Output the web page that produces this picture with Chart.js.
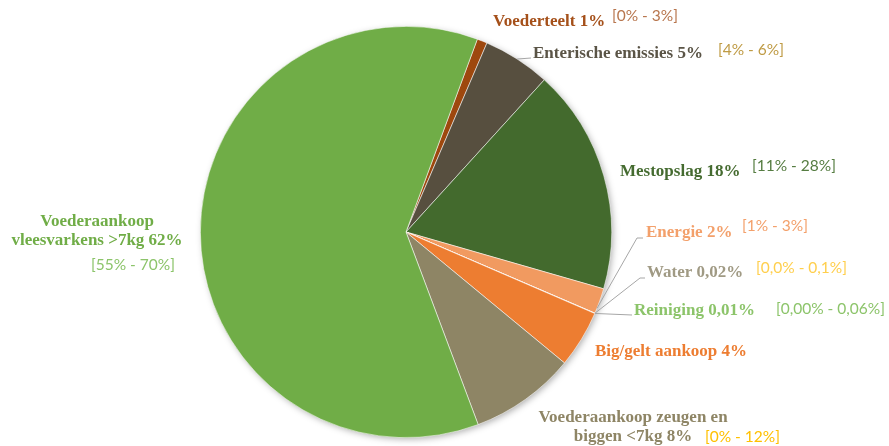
<!DOCTYPE html>
<html><head><meta charset="utf-8">
<script src="https://cdn.jsdelivr.net/npm/chart.js@4/dist/chart.umd.min.js"></script>
<style>html,body{margin:0;padding:0;background:#fff}</style>
</head><body>
<canvas id="c" width="889" height="446"></canvas>
<script>
// ---- data ----
const categories = ['Voederteelt', 'Enterische emissies', 'Mestopslag', 'Energie', 'Water', 'Reiniging', 'Big/gelt aankoop', 'Voederaankoop zeugen en biggen <7kg', 'Voederaankoop vleesvarkens >7kg'];
const shares = [0.8, 5.3, 17.7, 2.0, 0.02, 0.01, 4.5, 8.3, 61.3];
const shareLabels = ['1%', '5%', '18%', '2%', '0,02%', '0,01%', '4%', '8%', '62%'];
const ranges = ['[0% - 3%]', '[4% - 6%]', '[11% - 28%]', '[1% - 3%]', '[0,0% - 0,1%]', '[0,00% - 0,06%]', '', '[0% - 12%]', '[55% - 70%]'];

// ---- styles ----
const sliceColors = ['#9E480E', '#574F3F', '#436A2D', '#F19A60', '#A5A08A', '#8CC46A', '#ED7D31', '#8E8565', '#70AD47'];
const nameColors = ['#A5501A', '#5A5446', '#456B30', '#F3A06B', '#A09A84', '#8CC46A', '#ED7D31', '#8E8565', '#70AD47'];
const rangeColors = ['#B8764E', '#BF9B45', '#567D42', '#F3A06B', '#FFCF4D', '#8CC46A', '#000', '#FFC000', '#8CC46A'];

// label layout (pixel positions of texts): align 'l' = left edge, 'c' = centre
const layout = [
  {nx: 493, ny: 22, al: 'l', rx: 612, ry: 16, lead: null},
  {nx: 533, ny: 54, al: 'l', rx: 718, ry: 50, lead: {f: 0.5, pts: [[531, 58]]}},
  {nx: 620, ny: 172, al: 'l', rx: 752, ry: 166, lead: null},
  {nx: 646, ny: 233, al: 'l', rx: 742, ry: 226, lead: {f: 0.8, pts: [[637, 238], [643, 238]]}},
  {nx: 647, ny: 273, al: 'l', rx: 756, ry: 268, lead: {f: 0.5, pts: [[640, 278], [645, 278]]}},
  {nx: 634, ny: 311, al: 'l', rx: 776, ry: 309, lead: {f: 0.5, pts: [[632, 315]]}},
  {nx: 595, ny: 352, al: 'l', rx: 0, ry: 0, lead: null},
  {nx: 633, ny: 418, al: 'c', brk: 3, lh: 19, rx: 705, ry: 437, lead: null},
  {nx: 97, ny: 222, al: 'c', brk: 1, lh: 19, rx: 91, ry: 265, lead: null}
];
const nameFont = 'bold 17px "Liberation Serif"';
const rangeFont = '15.5px Lato';

const labelPlugin = {
  id: 'labels',
  beforeDatasetsDraw(chart) {
    const a = chart.getDatasetMeta(0).data[0];
    const ctx = chart.ctx;
    ctx.save();
    ctx.shadowColor = 'rgba(0,0,0,0.35)';
    ctx.shadowBlur = 7;
    ctx.shadowOffsetX = 2;
    ctx.shadowOffsetY = 2;
    ctx.fillStyle = '#fff';
    ctx.beginPath();
    ctx.arc(a.x, a.y, a.outerRadius - 1, 0, Math.PI * 2);
    ctx.fill();
    ctx.restore();
  },
  afterDatasetsDraw(chart) {
    const ctx = chart.ctx;
    const arcs = chart.getDatasetMeta(0).data;
    ctx.save();
    ctx.textBaseline = 'middle';
    categories.forEach((cat, i) => {
      const L = layout[i];
      const arc = arcs[i];
      if (L.lead) {
        const ang = arc.startAngle + (arc.endAngle - arc.startAngle) * L.lead.f;
        const px = arc.x + arc.outerRadius * Math.cos(ang);
        const py = arc.y + arc.outerRadius * Math.sin(ang);
        ctx.strokeStyle = '#A6A6A6';
        ctx.lineWidth = 1;
        ctx.beginPath();
        ctx.moveTo(px, py);
        L.lead.pts.forEach(p => ctx.lineTo(p[0], p[1]));
        ctx.stroke();
      }
      const full = cat + ' ' + shareLabels[i];
      let lines = [full];
      if (L.brk) {
        const w = full.split(' ');
        lines = [w.slice(0, L.brk).join(' '), w.slice(L.brk).join(' ')];
      }
      ctx.font = nameFont;
      ctx.fillStyle = nameColors[i];
      ctx.textAlign = L.al === 'c' ? 'center' : 'left';
      lines.forEach((t, k) => ctx.fillText(t, L.nx, L.ny + k * (L.lh || 0)));
      if (ranges[i]) {
        ctx.font = rangeFont;
        ctx.fillStyle = rangeColors[i];
        ctx.textAlign = 'left';
        ctx.fillText(ranges[i], L.rx, L.ry);
      }
    });
    ctx.restore();
  }
};

new Chart(document.getElementById('c'), {
  type: 'pie',
  data: {
    labels: categories,
    datasets: [{
      data: shares,
      backgroundColor: sliceColors,
      borderColor: 'rgba(255,255,255,0.7)',
      borderWidth: 0.75
    }]
  },
  options: {
    responsive: false,
    animation: false,
    rotation: 20.3,
    layout: {padding: {left: 200, right: 277, top: 26, bottom: 8}},
    plugins: {legend: {display: false}, tooltip: {enabled: false}}
  },
  plugins: [labelPlugin]
});
</script>
</body></html>
